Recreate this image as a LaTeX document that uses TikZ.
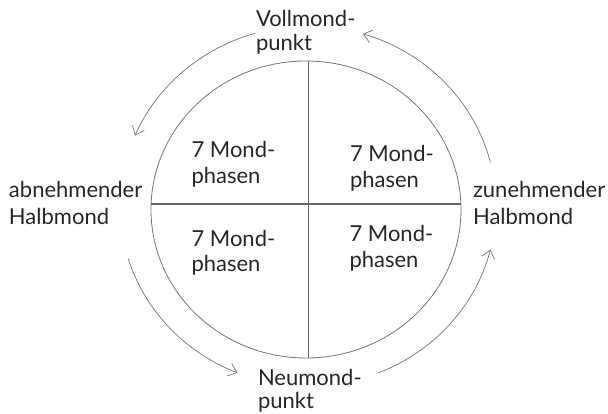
\documentclass[tikz,border=0pt]{standalone}
\usepackage{fontspec}
\setmainfont{Lato}
\usetikzlibrary{arrows.meta,calc}
\newcommand\twoline[2]{\begin{tabular}[t]{@{}l@{}}#1\\#2\end{tabular}}
\tikzset{
  lbl/.style={anchor=base west, inner sep=0pt, outer sep=0pt, text=black!85},
  cyc/.style={draw=black!55, line width=0.7pt, -{Straight Barb[length=8pt,width=13pt,line width=0.7pt]}},
  rim/.style={draw=black!55, line width=0.8pt},
  cross/.style={draw=black!60, line width=1.1pt},
}
\begin{document}
\begin{tikzpicture}[x=1pt,y=1pt]
\useasboundingbox (0,0) rectangle (608,413);
% main circle
\coordinate (c) at (306,203.5);
\draw[rim] (c) ellipse [x radius=155pt, y radius=148.5pt];
\coordinate (top) at (308.5,352);
\coordinate (bot) at (308.5,55);
\coordinate (lft) at (151.1,209);
\coordinate (rgt) at (460.9,209);
\draw[cross] (top) -- (bot);
\draw[cross] (lft) -- (rgt);
% labels
\node[lbl] (voll) at (256,386.3) {\fontsize{22}{23.5}\selectfont\twoline{Vollmond-}{punkt}};
\node[lbl] (neu) at (258,28) {\fontsize{22}{23.5}\selectfont\twoline{Neumond-}{punkt}};
\node[lbl] (ab) at (9,215) {\fontsize{22}{27}\selectfont\twoline{abnehmender}{Halbmond}};
\node[lbl] (zu) at (473,215) {\fontsize{22}{27}\selectfont\twoline{zunehmender}{Halbmond}};
\node[lbl] (q1) at (191.5,255.3) {\fontsize{22}{25.6}\selectfont\twoline{7 Mond-}{phasen}};
\node[lbl] (q2) at (350,251.3) {\fontsize{22}{25.6}\selectfont\twoline{7 Mond-}{phasen}};
\node[lbl] (q3) at (191.5,167) {\fontsize{22}{25.6}\selectfont\twoline{7 Mond-}{phasen}};
\node[lbl] (q4) at (349.5,171.3) {\fontsize{22}{25.6}\selectfont\twoline{7 Mond-}{phasen}};
% cycle arcs
\coordinate (o) at (308,207);
\coordinate (s1) at ($(o)+(106.4:188pt and 180pt)$);
\coordinate (s2) at ($(o)+(14:188pt and 180pt)$);
\coordinate (s3) at ($(o)+(197:188pt and 180pt)$);
\coordinate (s4) at ($(o)+(292:188pt and 180pt)$);
\draw[cyc] (s1) arc[start angle=106.4, end angle=157, x radius=188pt, y radius=180pt];
\draw[cyc] (s2) arc[start angle=14, end angle=73, x radius=188pt, y radius=180pt];
\draw[cyc] (s3) arc[start angle=197, end angle=248, x radius=188pt, y radius=180pt];
\draw[cyc] (s4) arc[start angle=292, end angle=346, x radius=188pt, y radius=180pt];
\end{tikzpicture}
\end{document}
